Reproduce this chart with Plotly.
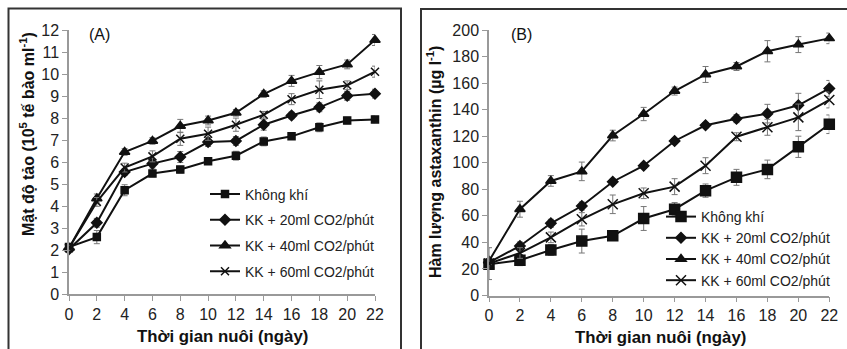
import plotly.graph_objects as go

days = [0, 2, 4, 6, 8, 10, 12, 14, 16, 18, 20, 22]
x_ticks = [0, 2, 4, 6, 8, 10, 12, 14, 16, 18, 20, 22]
names = ["Không khí", "KK + 20ml CO2/phút", "KK + 40ml CO2/phút", "KK + 60ml CO2/phút"]

# Panel A: cell density (10^5 cells/ml)
a_air   = [2.15, 2.6, 4.73, 5.49, 5.67, 6.05, 6.3, 6.95, 7.18, 7.59, 7.9, 7.95]
a_20    = [2.05, 3.25, 5.56, 5.94, 6.24, 6.92, 6.97, 7.71, 8.13, 8.5, 9.02, 9.12]
a_40    = [2.1, 4.36, 6.47, 6.97, 7.65, 7.9, 8.25, 9.1, 9.7, 10.1, 10.45, 11.56]
a_60    = [2.1, 4.2, 5.76, 6.27, 7.07, 7.3, 7.71, 8.16, 8.87, 9.3, 9.5, 10.12]
a_air_e = [0.1, 0.3, 0.25, 0.15, 0.15, 0.1, 0.2, 0.2, 0.1, 0.2, 0.15, 0.15]
a_20_e  = [0.1, 0.2, 0.15, 0.2, 0.25, 0.2, 0.2, 0.25, 0.15, 0.2, 0.2, 0.2]
a_40_e  = [0.1, 0.2, 0.15, 0.15, 0.3, 0.2, 0.15, 0.15, 0.25, 0.3, 0.2, 0.25]
a_60_e  = [0.1, 0.2, 0.2, 0.25, 0.3, 0.3, 0.3, 0.15, 0.25, 0.4, 0.2, 0.25]
a_yticks = list(range(0, 13))

# Panel B: astaxanthin (µg/l)
b_air   = [23.5, 26.5, 34.3, 41, 45, 58, 65, 79, 89, 95, 112, 129]
b_20    = [25, 37.3, 54.4, 67.4, 85.7, 97.8, 116.4, 128.2, 133.2, 137, 143.3, 156]
b_40    = [26, 65, 86.3, 93.5, 120.5, 136.7, 154, 166.5, 172.5, 184, 189, 193.7]
b_60    = [24, 32, 43.8, 57.4, 68.7, 77, 82, 97.8, 119.6, 126.7, 134.2, 147.3]
b_air_e = [3, 4, 4, 9, 3, 9, 5, 5, 6, 7, 8, 7]
b_20_e  = [3, 3, 3, 3, 2, 2, 2, 2, 3, 7, 9, 6]
b_40_e  = [3, 6, 4, 7, 4, 5, 3, 6, 3, 8, 6, 4]
b_60_e  = [12, 4, 4, 5, 7, 4, 6, 6, 3, 6, 10, 6]
b_yticks = list(range(0, 201, 20))

W, H = 847, 349
def px(x):
    return x / W
def py(y):
    return 1 - y / H

FONT = "Liberation Sans, Arial, sans-serif"
LINE = "#111111"

fig = go.Figure()

a_series = [(a_air, a_air_e, "square", 7), (a_20, a_20_e, "diamond", 8),
            (a_40, a_40_e, "triangle-up", 9), (a_60, a_60_e, "x-thin", 8)]
b_series = [(b_air, b_air_e, "square", 10), (b_20, b_20_e, "diamond", 8),
            (b_40, b_40_e, "triangle-up", 9), (b_60, b_60_e, "x-thin", 10)]

for i, (vals, errs, sym, sz) in enumerate(a_series):
    fig.add_trace(go.Scatter(
        x=days, y=vals, name=names[i], mode="lines+markers",
        line=dict(color=LINE, width=2),
        marker=dict(symbol=sym, size=sz, color=LINE, line=dict(color=LINE, width=1.5)),
        error_y=dict(type="data", array=errs, color="#777777", thickness=1, width=3),
        xaxis="x", yaxis="y", legend="legend", legendgroup="a%d" % i, cliponaxis=False))

for i, (vals, errs, sym, sz) in enumerate(b_series):
    fig.add_trace(go.Scatter(
        x=days, y=vals, name=names[i], mode="lines+markers",
        line=dict(color=LINE, width=2),
        marker=dict(symbol=sym, size=sz, color=LINE, line=dict(color=LINE, width=1.5)),
        error_y=dict(type="data", array=errs, color="#777777", thickness=1, width=3),
        xaxis="x2", yaxis="y2", legend="legend2", cliponaxis=False))

axis_common = dict(showgrid=False, zeroline=False, showline=True, linecolor="#999999",
                   linewidth=1.5, ticks="outside", tickcolor="#999999", ticklen=5,
                   automargin=False,
                   tickfont=dict(family=FONT, size=16, color="#222222"))

fig.update_layout(
    width=W, height=H, margin=dict(l=0, r=0, t=0, b=0, autoexpand=False),
    paper_bgcolor="white", plot_bgcolor="white",
    font=dict(family=FONT, color="#111111"),
    xaxis=dict(domain=[px(69), px(375)], range=[0, 22], tickvals=x_ticks, anchor="y",
               **axis_common),
    yaxis=dict(domain=[py(294.3), py(30.3)], range=[0, 12], tickvals=a_yticks, anchor="x",
               **axis_common),
    xaxis2=dict(domain=[px(489), px(829.3)], range=[0, 22], tickvals=x_ticks, anchor="y2",
                **axis_common),
    yaxis2=dict(domain=[py(295.5), py(30)], range=[0, 200], tickvals=b_yticks, anchor="x2",
                **axis_common),
    legend=dict(x=px(205), y=py(178.5), xanchor="left", yanchor="top", bgcolor="rgba(0,0,0,0)",
                font=dict(family=FONT, size=14, color="#222222"), traceorder="grouped",
                tracegroupgap=4.5, itemwidth=30),
    legend2=dict(x=px(661), y=py(201), xanchor="left", yanchor="top", bgcolor="rgba(0,0,0,0)",
                 font=dict(family=FONT, size=14, color="#222222"), traceorder="normal",
                 itemwidth=30),
    showlegend=True,
)

def label(text, x, y, size, angle=0, anchor="center"):
    fig.add_annotation(text=text, x=px(x), y=py(y), xref="paper", yref="paper",
                       xanchor=anchor, yanchor="middle", showarrow=False, textangle=angle,
                       font=dict(family=FONT, size=size, color="#111111"))

label("<b>Thời gian nuôi (ngày)</b>", 222.5, 336.5, 16.8)
label("<b>Thời gian nuôi (ngày)</b>", 660, 337, 16.8)
label("<b>Mật độ tảo (10<sup>5</sup> tế bào ml<sup>-1</sup>)</b>", 27, 134, 16, angle=-90)
label("<b>Hàm lượng astaxanthin (µg l<sup>-1</sup>)</b>", 434, 162, 16, angle=-90)
label("(A)", 87, 34, 16, anchor="left")
label("(B)", 509, 34, 16, anchor="left")

# panel frames
fig.add_shape(type="rect", xref="paper", yref="paper", x0=px(8.5), x1=px(401), y0=py(352), y1=py(8.5),
              line=dict(color="#333333", width=2), layer="below")
fig.add_shape(type="rect", xref="paper", yref="paper", x0=px(421), x1=px(852), y0=py(352), y1=py(9),
              line=dict(color="#333333", width=2), layer="below")

fig.write_html("out.html", config={"displayModeBar": False},
               post_script="document.body.style.margin='0';document.body.style.overflow='hidden';")
